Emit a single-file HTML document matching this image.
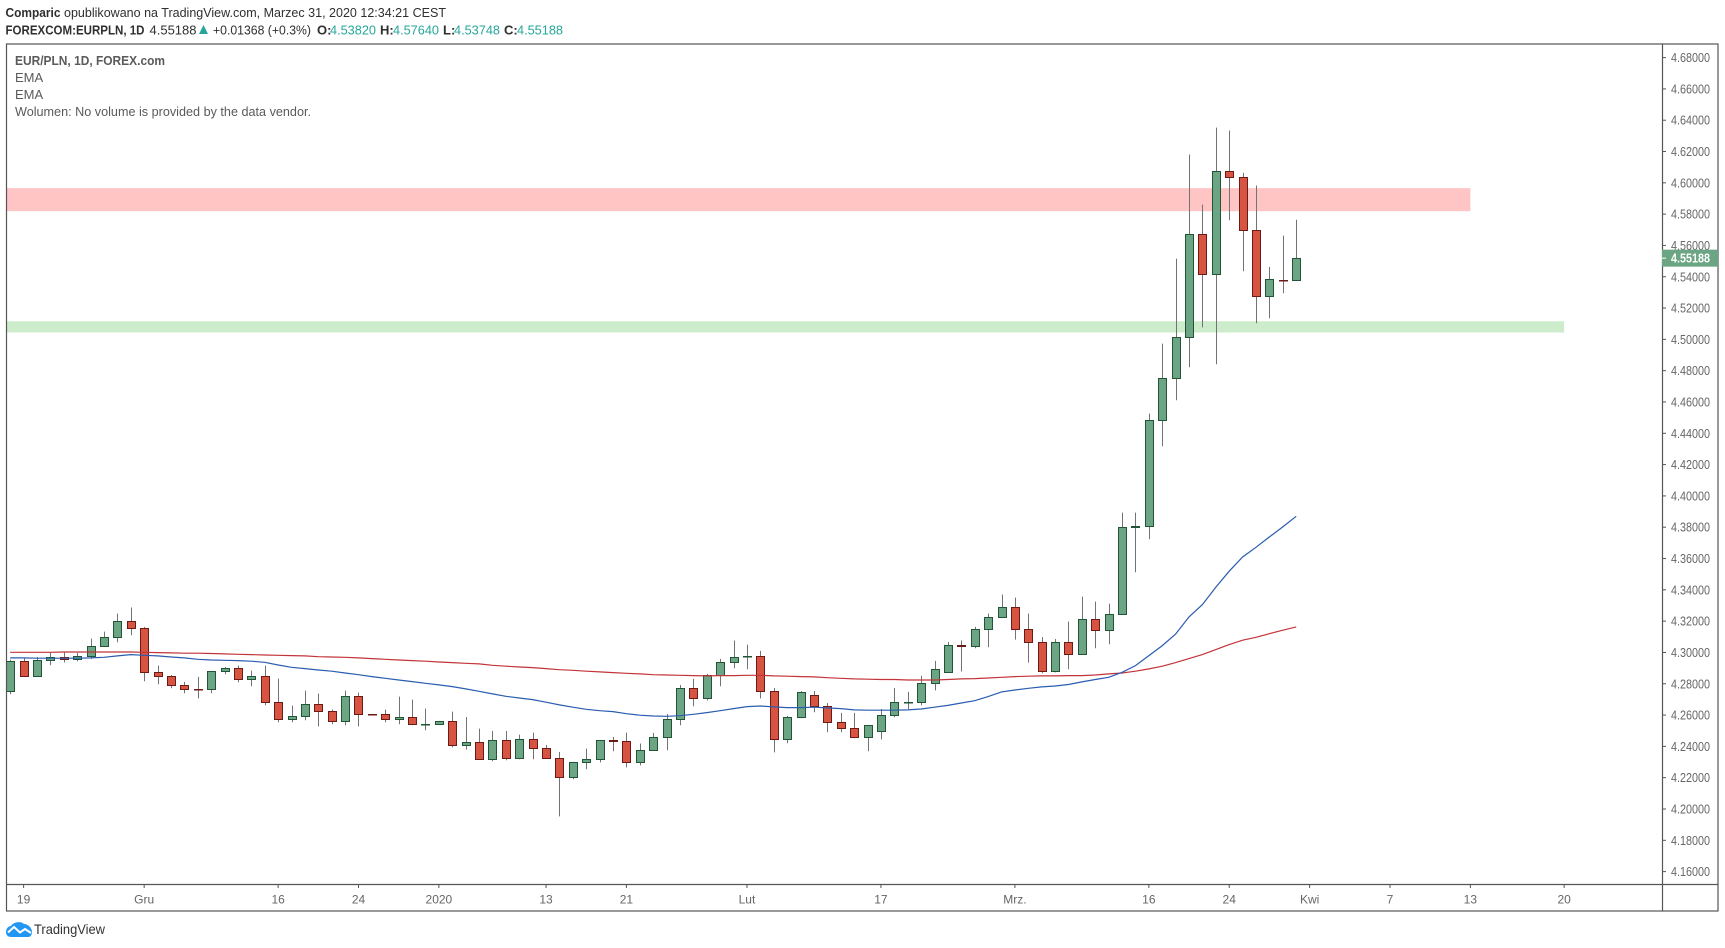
<!DOCTYPE html>
<html lang="pl">
<head>
<meta charset="utf-8">
<title>EUR/PLN TradingView chart</title>
<style>
html,body{margin:0;padding:0;background:#fff;width:1725px;height:948px;overflow:hidden}
svg{display:block;font-family:"Liberation Sans",sans-serif}
</style>
</head>
<body>
<svg id="chart" xmlns="http://www.w3.org/2000/svg" width="1725" height="948" viewBox="0 0 1725 948">
  <g font-size="13" fill="#2f2f2f">
    <text x="5.5" y="17" font-weight="bold" textLength="55" lengthAdjust="spacingAndGlyphs">Comparic</text>
    <text x="64" y="17" textLength="382" lengthAdjust="spacingAndGlyphs">opublikowano na TradingView.com, Marzec 31, 2020 12:34:21 CEST</text>
    <text x="5.5" y="34.5" font-weight="bold" textLength="139" lengthAdjust="spacingAndGlyphs">FOREXCOM:EURPLN, 1D</text>
    <text x="149.5" y="34.5" textLength="47" lengthAdjust="spacingAndGlyphs">4.55188</text>
    <polygon points="199,34 208,34 203.5,25" fill="#26a69a"/>
    <text x="213" y="34.5" textLength="98" lengthAdjust="spacingAndGlyphs">+0.01368 (+0.3%)</text>
    <text x="317" y="34.5" font-weight="bold">O:</text>
    <text x="330" y="34.5" fill="#26a69a" textLength="46" lengthAdjust="spacingAndGlyphs">4.53820</text>
    <text x="380" y="34.5" font-weight="bold">H:</text>
    <text x="393" y="34.5" fill="#26a69a" textLength="46" lengthAdjust="spacingAndGlyphs">4.57640</text>
    <text x="443" y="34.5" font-weight="bold">L:</text>
    <text x="454" y="34.5" fill="#26a69a" textLength="46" lengthAdjust="spacingAndGlyphs">4.53748</text>
    <text x="504" y="34.5" font-weight="bold">C:</text>
    <text x="517" y="34.5" fill="#26a69a" textLength="46" lengthAdjust="spacingAndGlyphs">4.55188</text>
  </g>
  <defs>
    <clipPath id="plot-clip"><rect x="6" y="44" width="1656" height="840"/></clipPath>
  </defs>
  <g id="plot" clip-path="url(#plot-clip)"></g>
  <g font-size="13" fill="#5a5a5a">
    <text x="15" y="65" font-weight="bold" textLength="150" lengthAdjust="spacingAndGlyphs">EUR/PLN, 1D, FOREX.com</text>
    <text x="15" y="82">EMA</text>
    <text x="15" y="99">EMA</text>
    <text x="15" y="116" textLength="296" lengthAdjust="spacingAndGlyphs">Wolumen: No volume is provided by the data vendor.</text>
  </g>
  <g id="axes"></g>
  <g fill="none" stroke="#555" stroke-width="1.2">
    <rect x="6.5" y="44" width="1711.5" height="867"/>
    <line x1="1662.5" y1="44" x2="1662.5" y2="911"/>
    <line x1="6.5" y1="884.5" x2="1718" y2="884.5"/>
  </g>
  <g id="last-price-group"></g>
  <g>
    <path d="M6 932 C6 928 9 926 11 926 C13 922.5 20 920.5 24 924 C28 924 32 928 32 932 C32 935.5 30 937 28 937 L11 937 C8 937 6 935 6 932 Z" fill="#2196f3"/>
    <polyline points="8,932.5 14,927 20,932.5 25,929 31,933" fill="none" stroke="#fff" stroke-width="2"/>
    <text x="34" y="934" font-size="14" fill="#333" textLength="71" lengthAdjust="spacingAndGlyphs">TradingView</text>
  </g>
</svg>
<script>
const opens = [4.2754,4.2946,4.2850,4.2952,4.2971,4.2959,4.2978,4.3042,4.3099,4.3201,4.3157,4.2876,4.2850,4.2793,4.2767,4.2767,4.2882,4.2901,4.2831,4.2850,4.2684,4.2575,4.2594,4.2671,4.2626,4.2563,4.2722,4.2607,4.2607,4.2575,4.2588,4.2543,4.2543,4.2563,4.2409,4.2428,4.2320,4.2441,4.2326,4.2448,4.2390,4.2326,4.2205,4.2301,4.2320,4.2441,4.2435,4.2301,4.2377,4.2460,4.2575,4.2773,4.2709,4.2856,4.2939,4.2977,4.2978,4.2754,4.2448,4.2588,4.2729,4.2658,4.2556,4.2518,4.2460,4.2498,4.2601,4.2683,4.2684,4.2805,4.2875,4.3048,4.3042,4.3150,4.3227,4.3291,4.3150,4.3067,4.2882,4.3067,4.2990,4.3214,4.3144,4.3246,4.3800,4.3806,4.4485,4.4754,4.5014,4.5674,4.5418,4.6076,4.6038,4.5699,4.5278,4.5382,4.53820];
const highs = [4.2954,4.2965,4.2971,4.3003,4.3003,4.2997,4.3088,4.3133,4.3248,4.3287,4.3163,4.2916,4.2856,4.2812,4.2844,4.2882,4.2907,4.2916,4.2884,4.2916,4.2833,4.2660,4.2756,4.2737,4.2635,4.2756,4.2743,4.2607,4.2635,4.2718,4.2699,4.2641,4.2563,4.2622,4.2588,4.2513,4.2499,4.2499,4.2475,4.2488,4.2409,4.2364,4.2301,4.2386,4.2441,4.2460,4.2488,4.2418,4.2486,4.2607,4.2792,4.2831,4.2863,4.2959,4.3076,4.3050,4.3010,4.2773,4.2594,4.2754,4.2754,4.2677,4.2614,4.2614,4.2537,4.2639,4.2773,4.2748,4.2850,4.2946,4.3067,4.3076,4.3163,4.3248,4.3370,4.3350,4.3248,4.3099,4.3086,4.3197,4.3357,4.3325,4.3312,4.3893,4.3893,4.4526,4.4973,4.5516,4.6181,4.5861,4.6353,4.6334,4.6064,4.5983,4.5463,4.5663,4.57640];
const lows = [4.2733,4.2850,4.2850,4.2918,4.2937,4.2944,4.2959,4.3042,4.3065,4.3110,4.2816,4.2797,4.2771,4.2739,4.2707,4.2739,4.2861,4.2810,4.2784,4.2663,4.2554,4.2554,4.2567,4.2528,4.2541,4.2535,4.2528,4.2606,4.2554,4.2541,4.2535,4.2503,4.2543,4.2394,4.2379,4.2320,4.2305,4.2311,4.2318,4.2318,4.2326,4.1953,4.2190,4.2254,4.2298,4.2369,4.2266,4.2279,4.2377,4.2375,4.2535,4.2656,4.2694,4.2784,4.2899,4.2893,4.2707,4.2362,4.2420,4.2580,4.2618,4.2490,4.2490,4.2452,4.2369,4.2445,4.2586,4.2639,4.2663,4.2758,4.2875,4.2878,4.3027,4.3033,4.3227,4.3082,4.2935,4.2867,4.2873,4.2893,4.2990,4.3027,4.3052,4.3246,4.3512,4.3723,4.4317,4.4611,4.4822,4.5077,4.4841,4.5761,4.5435,4.5103,4.5135,4.5295,4.53748];
const closes = [4.2946,4.2850,4.2952,4.2971,4.2959,4.2978,4.3042,4.3099,4.3201,4.3157,4.2876,4.2850,4.2793,4.2767,4.2766,4.2882,4.2901,4.2831,4.2850,4.2684,4.2575,4.2594,4.2671,4.2626,4.2563,4.2722,4.2607,4.2606,4.2575,4.2588,4.2543,4.2544,4.2563,4.2409,4.2428,4.2320,4.2441,4.2326,4.2448,4.2390,4.2326,4.2205,4.2301,4.2320,4.2441,4.2435,4.2301,4.2377,4.2460,4.2575,4.2773,4.2709,4.2856,4.2939,4.2971,4.2978,4.2754,4.2448,4.2588,4.2748,4.2658,4.2556,4.2518,4.2460,4.2537,4.2601,4.2684,4.2684,4.2805,4.2895,4.3048,4.3039,4.3150,4.3227,4.3291,4.3150,4.3067,4.2882,4.3067,4.2990,4.3214,4.3144,4.3246,4.3802,4.3806,4.4485,4.4754,4.5016,4.5674,4.5418,4.6076,4.6038,4.5699,4.5278,4.5386,4.5381,4.55188];
const emaFast = [4.2965,4.2965,4.2963,4.2963,4.2963,4.2963,4.2965,4.2969,4.2978,4.2986,4.2982,4.2978,4.2971,4.2965,4.2956,4.2952,4.2950,4.2948,4.2944,4.2937,4.2920,4.2905,4.2897,4.2888,4.2880,4.2869,4.2858,4.2846,4.2835,4.2824,4.2814,4.2803,4.2793,4.2782,4.2767,4.2752,4.2735,4.2720,4.2709,4.2699,4.2682,4.2665,4.2650,4.2637,4.2628,4.2622,4.2609,4.2599,4.2594,4.2592,4.2596,4.2605,4.2616,4.2628,4.2641,4.2654,4.2658,4.2652,4.2648,4.2648,4.2650,4.2646,4.2641,4.2633,4.2631,4.2631,4.2631,4.2633,4.2639,4.2650,4.2662,4.2677,4.2692,4.2718,4.2748,4.2760,4.2771,4.2780,4.2786,4.2795,4.2812,4.2827,4.2841,4.2873,4.2916,4.2980,4.3044,4.3118,4.3227,4.3306,4.3416,4.3519,4.3610,4.3672,4.3738,4.3802,4.3870];
const emaSlow = [4.3001,4.3001,4.3001,4.3001,4.3003,4.3003,4.3003,4.3003,4.3003,4.3003,4.3001,4.2999,4.2997,4.2995,4.2995,4.2993,4.2991,4.2988,4.2986,4.2984,4.2982,4.2980,4.2978,4.2973,4.2971,4.2969,4.2965,4.2961,4.2956,4.2952,4.2948,4.2944,4.2939,4.2935,4.2931,4.2927,4.2918,4.2912,4.2907,4.2903,4.2897,4.2890,4.2886,4.2880,4.2876,4.2871,4.2867,4.2863,4.2858,4.2856,4.2854,4.2852,4.2850,4.2852,4.2852,4.2854,4.2854,4.2850,4.2848,4.2846,4.2844,4.2839,4.2835,4.2831,4.2829,4.2827,4.2827,4.2824,4.2824,4.2824,4.2827,4.2831,4.2833,4.2837,4.2841,4.2846,4.2848,4.2850,4.2850,4.2852,4.2852,4.2856,4.2863,4.2869,4.2880,4.2895,4.2912,4.2935,4.2961,4.2986,4.3018,4.3050,4.3078,4.3097,4.3120,4.3142,4.3163];
const priceTicks = [4.68,4.66,4.64,4.62,4.60,4.58,4.56,4.54,4.52,4.50,4.48,4.46,4.44,4.42,4.40,4.38,4.36,4.34,4.32,4.30,4.28,4.26,4.24,4.22,4.20,4.18,4.16];
const timeLabels = ["19","Gru","16","24","2020","13","21","Lut","17","Mrz.","16","24","Kwi","7","13","20"];
const timeLabelBars = [1,10,20,26,32,40,46,55,65,75,85,91,97,103,109,116];
const resistanceZone = [4.5966,4.5819];
const supportZone = [4.5116,4.5044];
const resistanceZoneEndBar = 109;
const supportZoneEndBar = 116;
const lastPrice = 4.55188;

const NS = 'http://www.w3.org/2000/svg';
const xAxis = i => 10.2 + i * 13.396;
const yAxis = p => 57.6 + (4.68 - p) * 1565.4;
const plot = document.getElementById('plot');
const axes = document.getElementById('axes');
const lastGroup = document.getElementById('last-price-group');

function make(tag, attrs, parent) {
  const el = document.createElementNS(NS, tag);
  for (const k in attrs) el.setAttribute(k, attrs[k]);
  parent.appendChild(el);
  return el;
}

// zones
const zoneR = make('rect', {x: 6, y: yAxis(resistanceZone[0]), width: xAxis(resistanceZoneEndBar) - 6, height: yAxis(resistanceZone[1]) - yAxis(resistanceZone[0]), fill: '#ffc4c4'}, plot);


const zoneS = make('rect', {x: 6, y: yAxis(supportZone[0]), width: xAxis(supportZoneEndBar) - 6, height: yAxis(supportZone[1]) - yAxis(supportZone[0]), fill: '#cdeccb'}, plot);



// candles
opens.forEach((o, i) => {
  const c = closes[i];
  const up = c >= o;
  const cx = Math.round(xAxis(i)) + 0.5;
  const g = make('g', {}, plot);
  
  
  const wick = make('line', {x1: cx, x2: cx, y1: yAxis(highs[i]), y2: yAxis(lows[i]), stroke: '#737375', 'stroke-width': 1}, g);
  
  
  const top = Math.round(yAxis(Math.max(o, c))) + 0.5;
  const bot = Math.round(yAxis(Math.min(o, c))) + 0.5;
  const body = make('rect', {x: cx - 4, y: top, width: 8, height: Math.max(bot - top, 0.5), fill: up ? '#6ba583' : '#d75442', stroke: up ? '#225437' : '#6b1a14', 'stroke-width': 1}, g);
  
  
});

// EMA lines
function emaPath(values) {
  return values.map((v, i) => (i ? 'L' : 'M') + xAxis(i).toFixed(1) + ' ' + yAxis(v).toFixed(1)).join(' ');
}
const slowLine = make('path', {d: emaPath(emaSlow), fill: 'none', stroke: '#c2343a', 'stroke-width': 1.2}, plot);


const fastLine = make('path', {d: emaPath(emaFast), fill: 'none', stroke: '#2a5cb0', 'stroke-width': 1.2}, plot);



// price axis
priceTicks.forEach(p => {
  const y = yAxis(p);
  const tick = make('line', {x1: 1662, x2: 1666, y1: y, y2: y, stroke: '#555', 'stroke-width': 1}, axes);
  
  
  const label = make('text', {x: 1671, y: y + 4.5, 'font-size': 12.5, fill: '#666', textLength: 39, lengthAdjust: 'spacingAndGlyphs'}, axes);
  
  
  label.textContent = p.toFixed(5);
});

// time axis
timeLabels.forEach((t, i) => {
  const x = xAxis(timeLabelBars[i]);
  const tick = make('line', {x1: x, x2: x, y1: 884, y2: 888, stroke: '#555', 'stroke-width': 1}, axes);
  
  
  const label = make('text', {x: x, y: 903.5, 'font-size': 12, fill: '#666', 'text-anchor': 'middle'}, axes);
  
  
  label.textContent = t;
});

// last price marker
const ly = yAxis(lastPrice);
const box = make('rect', {x: 1662, y: ly - 8.5, width: 56, height: 17, fill: '#6ba583'}, lastGroup);


const boxTick = make('line', {x1: 1662, x2: 1666, y1: ly, y2: ly, stroke: '#fff', 'stroke-width': 1}, lastGroup);


const boxText = make('text', {x: 1671, y: ly + 4.5, 'font-size': 12.5, 'font-weight': 'bold', fill: '#fff', textLength: 39, lengthAdjust: 'spacingAndGlyphs'}, lastGroup);


boxText.textContent = lastPrice.toFixed(5);
</script>
</body>
</html>
